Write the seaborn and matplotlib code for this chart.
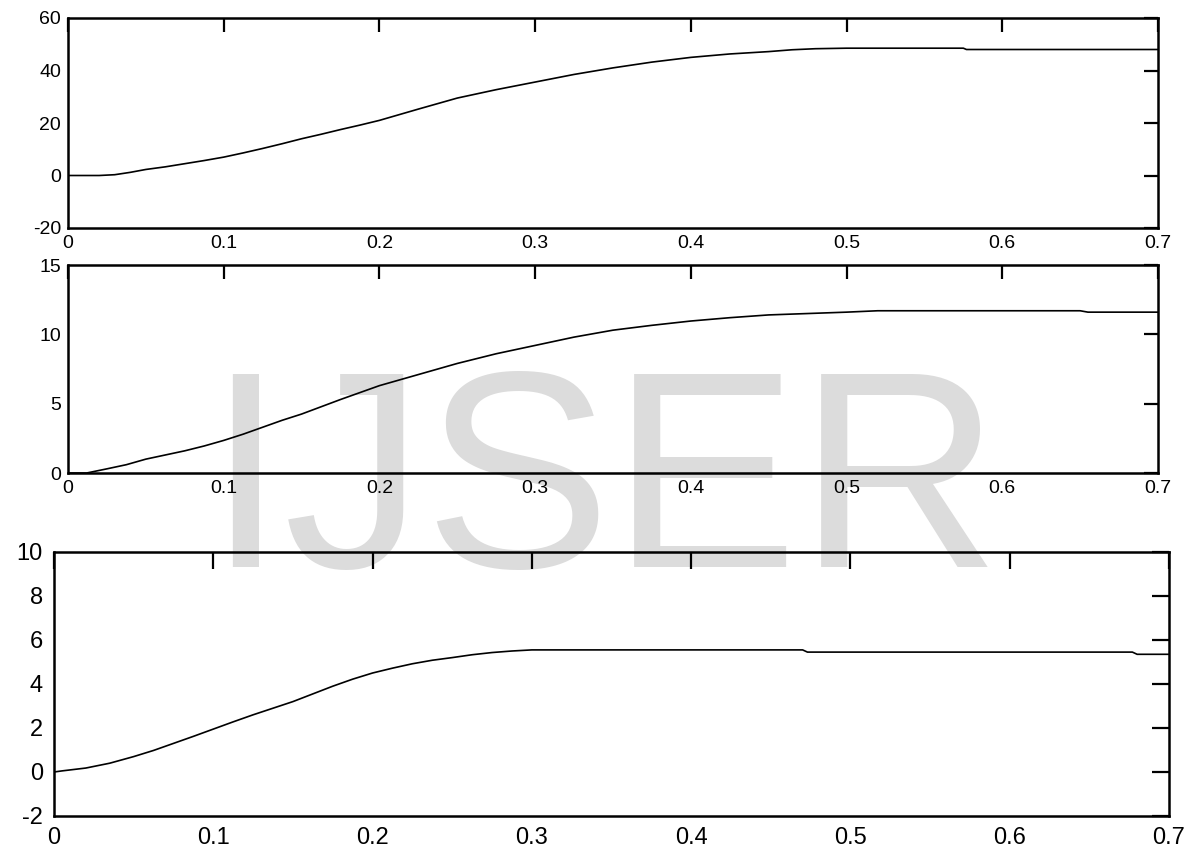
import matplotlib
matplotlib.use("Agg")
import matplotlib.pyplot as plt
import seaborn as sns
import pandas as pd

# ---- data ----
t_top = [0.0, 0.02, 0.03, 0.04, 0.05, 0.0625, 0.075, 0.0875, 0.1, 0.1125, 0.125, 0.1375,
         0.15, 0.1625, 0.175, 0.1875, 0.2, 0.225, 0.25, 0.275, 0.3, 0.325,
         0.35, 0.375, 0.4, 0.425, 0.45, 0.465, 0.48, 0.5, 0.575, 0.577, 0.7]
y_top = [0.0, 0.0, 0.3, 1.2, 2.3, 3.3, 4.5, 5.7, 7.0, 8.6, 10.3, 12.1,
         14.0, 15.7, 17.5, 19.2, 21.0, 25.3, 29.5, 32.7, 35.6, 38.5,
         41.0, 43.2, 45.0, 46.3, 47.2, 47.9, 48.3, 48.5, 48.5, 48.0, 48.0]

t_mid = [0.0, 0.012, 0.025, 0.0375, 0.05, 0.0625, 0.075, 0.0875, 0.1, 0.1125, 0.125, 0.1375,
         0.15, 0.175, 0.2, 0.225, 0.25, 0.275, 0.3, 0.325,
         0.35, 0.375, 0.4, 0.425, 0.45, 0.475, 0.5, 0.52, 0.65, 0.655, 0.7]
y_mid = [0.0, 0.0, 0.3, 0.6, 1.0, 1.3, 1.6, 1.95, 2.35, 2.8, 3.3, 3.8,
         4.25, 5.3, 6.3, 7.1, 7.9, 8.6, 9.2, 9.8,
         10.3, 10.65, 10.96, 11.2, 11.4, 11.5, 11.6, 11.7, 11.7, 11.6, 11.6]

t_bot = [0.0, 0.005, 0.02, 0.035, 0.05, 0.0625, 0.075, 0.0875, 0.1, 0.1125, 0.125, 0.1375,
         0.15, 0.1625, 0.175, 0.1875, 0.2, 0.2125, 0.225, 0.2375, 0.25, 0.2625,
         0.275, 0.2875, 0.3, 0.47, 0.473, 0.677, 0.68, 0.7]
y_bot = [0.0, 0.05, 0.18, 0.4, 0.7, 0.98, 1.3, 1.62, 1.95, 2.28, 2.6, 2.9,
         3.2, 3.55, 3.9, 4.22, 4.5, 4.72, 4.92, 5.08, 5.2, 5.33,
         5.43, 5.5, 5.55, 5.55, 5.45, 5.45, 5.35, 5.35]

x_ticks = [0, 0.1, 0.2, 0.3, 0.4, 0.5, 0.6, 0.7]
x_ticklabels = ["0", "0.1", "0.2", "0.3", "0.4", "0.5", "0.6", "0.7"]
top_yticks = [-20, 0, 20, 40, 60]
mid_yticks = [0, 5, 10, 15]
bot_yticks = [-2, 0, 2, 4, 6, 8, 10]

sns.set_style("white")
plt.rcParams['font.family'] = ['Liberation Sans', 'DejaVu Sans']

fig = plt.figure(figsize=(11.95, 8.51), dpi=100)

# watermark
fig.text(0.505, 1 - 567/851, "IJSER", fontsize=202, color="#dcdcdc",
         ha="center", va="baseline", zorder=-1, family="Liberation Sans")

panels = [
    ([68/1195, 1 - 228/851, 1090/1195, 210/851], t_top, y_top, (-20, 60), top_yticks, 14, 10, 5),
    ([68/1195, 1 - 473/851, 1090/1195, 208/851], t_mid, y_mid, (0, 15), mid_yticks, 14, 10, 5),
    ([54/1195, 1 - 816/851, 1115/1195, 264/851], t_bot, y_bot, (-2, 10), bot_yticks, 17, 12, 8),
]

for rect, tx, ty, ylim, yt, fs, tl, pad in panels:
    ax = fig.add_axes(rect)
    ax.set_facecolor("none")
    df = pd.DataFrame({"t": tx, "v": ty})
    sns.lineplot(data=df, x="t", y="v", ax=ax, color="black", linewidth=1.2)
    ax.set_xlim(0, 0.7)
    ax.set_ylim(*ylim)
    ax.set_xticks(x_ticks)
    ax.set_xticklabels(x_ticklabels)
    ax.set_yticks(yt)
    ax.set_yticklabels([str(v) for v in yt])
    ax.set_xlabel("")
    ax.set_ylabel("")
    for s in ax.spines.values():
        s.set_visible(True)
        s.set_color("black")
        s.set_linewidth(1.8)
    ax.tick_params(direction="in", length=tl, width=1.6, colors="black",
                   labelsize=fs, top=True, right=True, pad=pad)
    ax.grid(False)

fig.savefig("out.png", dpi=100)
